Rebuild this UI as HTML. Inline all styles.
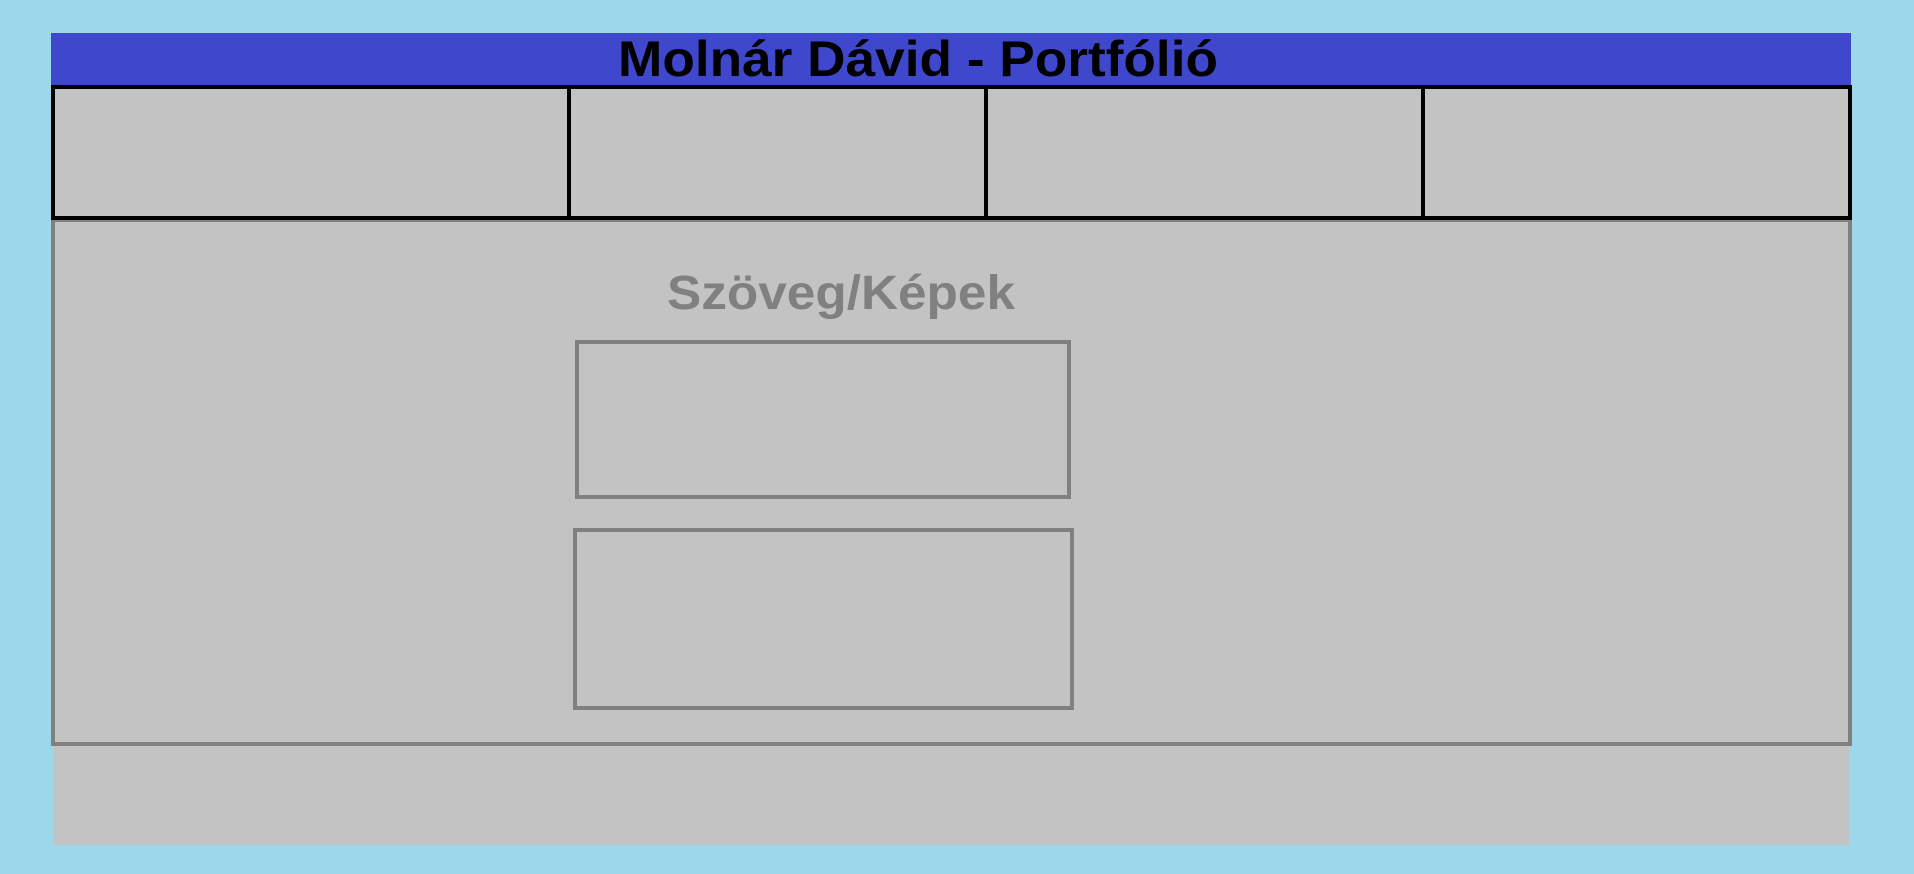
<!DOCTYPE html>
<html><head><meta charset="utf-8"><style>html,body{margin:0;padding:0;background:#9bd8ea;width:1914px;height:874px;overflow:hidden}</style></head>
<body>
<svg width="1914" height="874" viewBox="0 0 1914 874" xmlns="http://www.w3.org/2000/svg">
<rect width="1914" height="874" fill="#9bd8ea"/>
<rect x="51" y="33" width="1800" height="53" fill="#3f48cc"/>
<text x="918" y="76" text-anchor="middle" font-family="Liberation Sans, sans-serif" font-weight="bold" font-size="50" textLength="600" lengthAdjust="spacingAndGlyphs" fill="#000">Molnár Dávid - Portfólió</text>
<rect x="54" y="745" width="1795" height="100" fill="#c3c3c3"/>
<rect x="53" y="220" width="1797" height="524" fill="#c3c3c3" stroke="#808080" stroke-width="4"/>
<rect x="53" y="87" width="1797" height="131" fill="#c3c3c3" stroke="#000" stroke-width="4"/>
<line x1="569" y1="87" x2="569" y2="218" stroke="#000" stroke-width="4"/>
<line x1="986" y1="87" x2="986" y2="218" stroke="#000" stroke-width="4"/>
<line x1="1423" y1="87" x2="1423" y2="218" stroke="#000" stroke-width="4"/>
<text x="841" y="309" text-anchor="middle" font-family="Liberation Sans, sans-serif" font-weight="bold" font-size="48" textLength="348" lengthAdjust="spacingAndGlyphs" fill="#808080">Szöveg/Képek</text>
<rect x="577" y="342" width="492" height="155" fill="none" stroke="#808080" stroke-width="4"/>
<rect x="575" y="530" width="497" height="178" fill="none" stroke="#808080" stroke-width="4"/>
</svg>
</body></html>
